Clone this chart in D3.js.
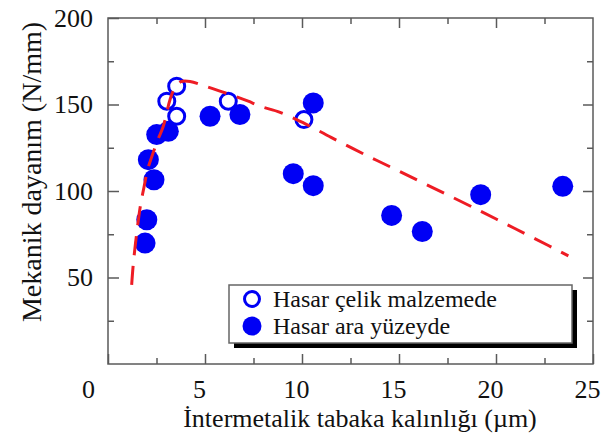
<!DOCTYPE html>
<html>
<head>
<meta charset="utf-8">
<script src="https://cdn.jsdelivr.net/npm/d3@7"></script>
<style>
  body { margin: 0; background: #fff; }
  svg text { font-family: "Liberation Serif", "Times New Roman", Times, serif !important; fill: #111; }
</style>
</head>
<body>
<svg id="chart" width="601" height="437"></svg>
<script>
// points
let open_x = [3.03, 3.54, 3.54, 6.2, 10.1]
let open_y = [151.9, 160.6, 143.2, 151.9, 141.3]

let filled_x = [1.91, 2.0, 2.37, 2.08, 2.51, 3.11, 5.26, 6.8, 9.55, 10.58, 10.58, 14.62, 16.2, 19.21, 23.44]
let filled_y = [69.9, 83.4, 106.5, 118.1, 132.6, 134.5, 143.2, 144.2, 110, 103.1, 150.9, 85.9, 76.6, 97.9, 102.7]

// dashed trend line
let fit_x = [1.22, 1.30, 1.47, 1.68, 1.85, 2.04, 2.24, 2.53, 2.85, 3.20, 3.45, 3.76, 4.23, 4.91, 5.77, 6.55, 7.23, 7.84, 8.87, 10.1, 11.5, 13.25, 15, 17, 19, 20.5, 22, 23.73]
let fit_y = [45.7, 57.3, 74.7, 92.1, 101.9, 112.3, 119.3, 128.5, 137.4, 152.9, 159.8, 163.2, 163.3, 161, 157.7, 154.8, 151.9, 149.0, 145.5, 139.2, 131, 121, 111.5, 100.5, 89.5, 81, 72.5, 62.5]

let x_ticks = [0, 5, 10, 15, 20, 25]
let y_ticks = [50, 100, 150, 200]
let legend_labels = ["Hasar çelik malzemede", "Hasar ara yüzeyde"]

let x_title = "İntermetalik tabaka kalınlığı (µm)"
let y_title = "Mekanik dayanım (N/mm)"

let serif = "Liberation Serif, Times New Roman, serif"
let frame_color = "#5a5a5a"
let blue = "#0000f5"

let margin = {top: 18, right: 8, bottom: 73, left: 108}
let width = 601, height = 437

function make_scales() {
  return {
    x: d3.scaleLinear().domain([0, 25]).range([margin.left, width - margin.right]),
    y: d3.scaleLinear().domain([0, 200]).range([height - margin.bottom, margin.top])
  }
}

function zip(xs, ys) {
  return xs.map((x, i) => ({x: x, y: ys[i]}))
}

// plain axis group: no domain line, grey ticks, serif labels
function tidy(a) {
  a.attr("font-family", serif).attr("font-size", 26)
  a.select(".domain").remove()
  a.selectAll("line").attr("stroke", frame_color).attr("stroke-width", 1.5)
  a.selectAll("text").attr("fill", "#111")
}

// box with inward ticks on all four sides
function draw_frame(svg, scales) {
  let bottom = height - margin.bottom
  let right = width - margin.right
  let minor_x = d3.range(2.5, 25, 5)
  let minor_y = d3.range(25, 200, 50)

  let g = svg.append("g")

  g.append("g").attr("transform", `translate(0, ${bottom})`)
    .call(d3.axisBottom(scales.x).tickValues(x_ticks).tickSizeInner(-10).tickSizeOuter(0).tickPadding(16))
    .call(tidy)
    .selectAll("text")
      .attr("dx", d => d == 0 ? -20 : -6)
  g.append("g").attr("transform", `translate(0, ${bottom})`)
    .call(d3.axisBottom(scales.x).tickValues(minor_x).tickSize(-6).tickFormat(""))
    .call(tidy)

  g.append("g").attr("transform", `translate(${margin.left}, 0)`)
    .call(d3.axisLeft(scales.y).tickValues(y_ticks).tickSizeInner(-11).tickSizeOuter(0).tickPadding(15))
    .call(tidy)
  g.append("g").attr("transform", `translate(${margin.left}, 0)`)
    .call(d3.axisLeft(scales.y).tickValues(minor_y).tickSize(-6).tickFormat(""))
    .call(tidy)

  g.append("g").attr("transform", `translate(0, ${margin.top})`)
    .call(d3.axisTop(scales.x).tickValues(x_ticks.slice(1, -1)).tickSize(-10).tickFormat(""))
    .call(tidy)
  g.append("g").attr("transform", `translate(0, ${margin.top})`)
    .call(d3.axisTop(scales.x).tickValues(minor_x).tickSize(-6).tickFormat(""))
    .call(tidy)

  g.append("g").attr("transform", `translate(${right}, 0)`)
    .call(d3.axisRight(scales.y).tickValues(y_ticks.slice(0, -1)).tickSize(-10).tickFormat(""))
    .call(tidy)
  g.append("g").attr("transform", `translate(${right}, 0)`)
    .call(d3.axisRight(scales.y).tickValues(minor_y).tickSize(-6).tickFormat(""))
    .call(tidy)

  g.append("rect")
    .attr("x", margin.left)
    .attr("y", margin.top)
    .attr("width", right - margin.left)
    .attr("height", bottom - margin.top)
    .attr("fill", "none")
    .attr("stroke", frame_color)
    .attr("stroke-width", 1.5)
}

function draw_points(svg, scales) {
  svg.append("g")
    .selectAll("circle")
    .data(zip(filled_x, filled_y)).enter()
    .append("circle")
    .attr("cx", d => scales.x(d.x))
    .attr("cy", d => scales.y(d.y))
    .attr("r", 10.5)
    .attr("fill", blue)

  svg.append("g")
    .selectAll("circle")
    .data(zip(open_x, open_y)).enter()
    .append("circle")
    .attr("cx", d => scales.x(d.x))
    .attr("cy", d => scales.y(d.y))
    .attr("r", 8)
    .attr("fill", "#fff")
    .attr("stroke", blue)
    .attr("stroke-width", 3)
}

function draw_fit(svg, scales) {
  let line = d3.line()
    .x(d => scales.x(d.x))
    .y(d => scales.y(d.y))
    .curve(d3.curveCatmullRom)

  svg.append("path")
    .datum(zip(fit_x, fit_y))
    .attr("d", line)
    .attr("fill", "none")
    .attr("stroke", "#ee1c24")
    .attr("stroke-width", 3)
    .attr("stroke-dasharray", "19,11")
}

function draw_legend(svg) {
  let g = svg.append("g").attr("transform", "translate(229, 285)")
  g.append("rect")
    .attr("x", 5).attr("y", 5)
    .attr("width", 343).attr("height", 58)
    .attr("fill", "#000")
  g.append("rect")
    .attr("width", 343).attr("height", 58)
    .attr("fill", "#fff")
    .attr("stroke", "#666")
    .attr("stroke-width", 1.5)

  let rows = g.selectAll(".row")
    .data(legend_labels).enter()
    .append("g")
    .attr("transform", (d, i) => `translate(0, ${14 + i * 27})`)

  rows.append("circle")
    .attr("cx", 23)
    .attr("r", (d, i) => i == 0 ? 7.5 : 9.5)
    .attr("fill", (d, i) => i == 0 ? "#fff" : blue)
    .attr("stroke", blue)
    .attr("stroke-width", (d, i) => i == 0 ? 3 : 0)

  rows.append("text")
    .attr("x", 44)
    .attr("y", 8)
    .attr("font-family", serif)
    .attr("font-size", 24)
    .text(d => d)
}

function draw_titles(svg) {
  svg.append("text")
    .attr("x", 360)
    .attr("y", 427)
    .attr("text-anchor", "middle")
    .attr("font-family", serif)
    .attr("font-size", 26)
    .text(x_title)

  svg.append("text")
    .attr("transform", "translate(41, 172) rotate(-90)")
    .attr("text-anchor", "middle")
    .attr("font-family", serif)
    .attr("font-size", 28)
    .text(y_title)
}

function visualize() {
  let svg = d3.select("#chart")
  let scales = make_scales()
  draw_frame(svg, scales)
  draw_points(svg, scales)
  draw_fit(svg, scales)
  draw_legend(svg)
  draw_titles(svg)
}

visualize()
</script>
</body>
</html>
